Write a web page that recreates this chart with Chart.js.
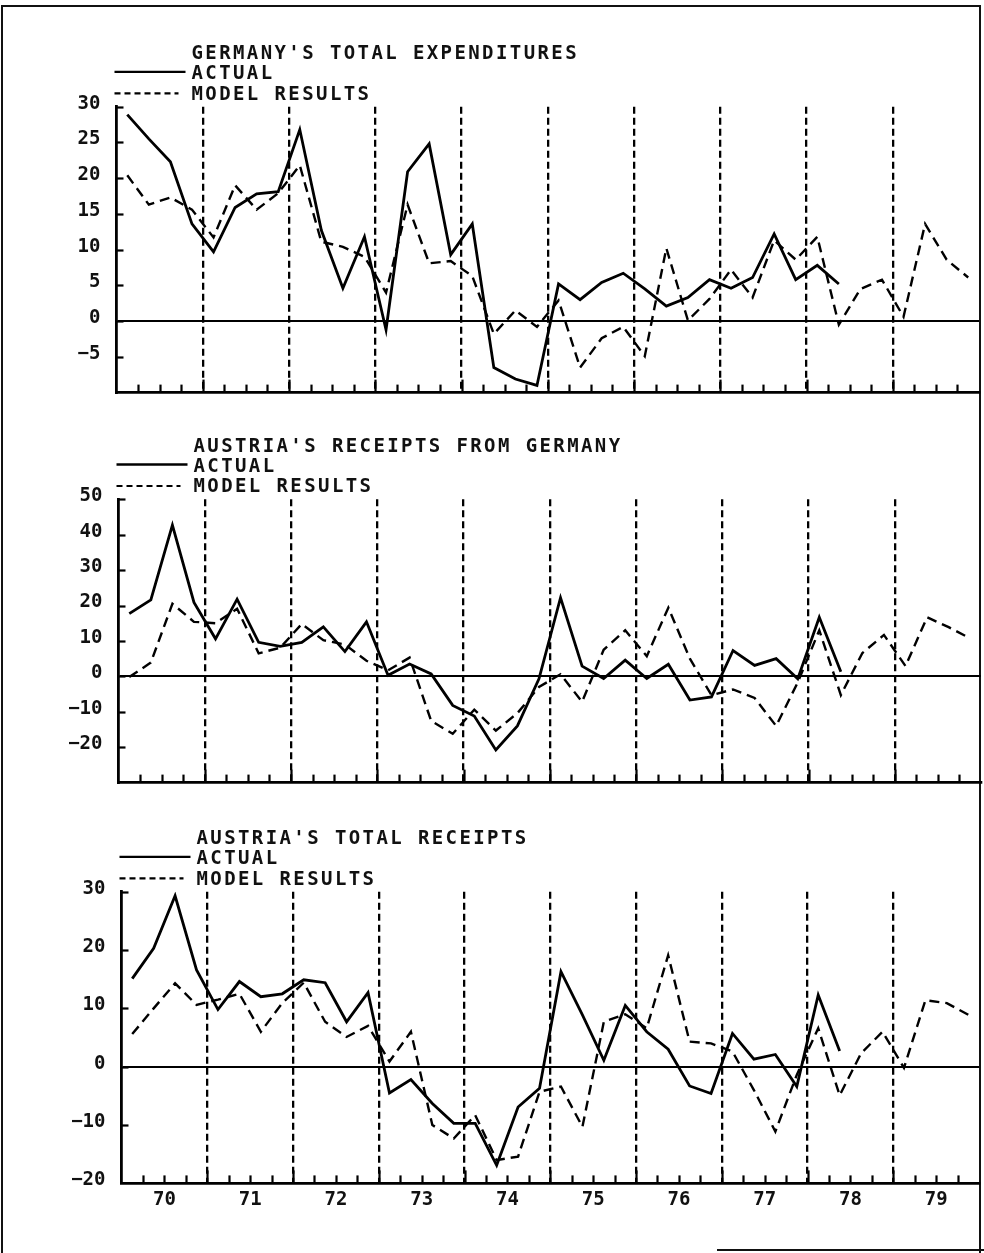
<!DOCTYPE html>
<html>
<head>
<meta charset="utf-8">
<title>Germany and Austria: actual vs model results, 1970-1979</title>
<script src="https://cdn.jsdelivr.net/npm/chart.js@4.4.1/dist/chart.umd.min.js"></script>
<style>
  html, body { margin: 0; padding: 0; background: #fff; }
  body { width: 984px; height: 1253px; position: relative; overflow: hidden;
         font-family: "DejaVu Sans Mono", "Liberation Mono", monospace; }
  canvas.panel { position: absolute; left: 0; }
  .head { position: absolute; font-size: 19px; line-height: 20.4px; letter-spacing: 2.4px;
          font-weight: bold; color: #111; white-space: pre; }
  svg.key { position: absolute; left: 0; top: 0; overflow: visible; }
  .frame { position: absolute; left: 1px; top: 5px; width: 976px; height: 1252px;
           border-left: 2px solid #111; border-top: 2px solid #111; border-right: 2px solid #111; }
  .base { position: absolute; left: 717px; top: 1249px; width: 267px; height: 2px; background: #111; }
</style>
</head>
<body>
<div class="frame"></div>
<div class="base"></div>

<script>
// Quarterly percentage changes, 1970 Q1 onward (one value per quarter).
const yearLabels = ['70', '71', '72', '73', '74', '75', '76', '77', '78', '79'];
const seriesNames = ['ACTUAL', 'MODEL RESULTS'];

// Germany's total expenditures
const germanyActual = [28.9, 25.5, 22.3, 13.6, 9.7, 15.9, 17.8, 18.1, 26.8, 12.7, 4.6, 11.8,
  -1.2, 20.9, 24.8, 9.3, 13.6, -6.5, -8.1, -9.0, 5.2, 3.0, 5.4, 6.7, 4.5, 2.1, 3.3, 5.8,
  4.6, 6.1, 12.2, 5.8, 7.8, 5.2];
const germanyModel = [20.4, 16.3, 17.3, 15.6, 11.7, 19.0, 15.6, 17.9, 21.8, 11.1, 10.4, 9.0,
  4.0, 16.3, 8.1, 8.4, 6.3, -1.8, 1.5, -0.8, 2.9, -6.5, -2.4, -0.8, -4.9, 10.2, 0.1, 3.1,
  7.2, 3.3, 11.3, 8.6, 11.8, -0.5, 4.5, 5.8, 0.6, 13.6, 8.6, 6.1];

// Austria's receipts from Germany
const fromGermanyActual = [17.7, 21.6, 42.7, 20.9, 10.6, 21.8, 9.6, 8.5, 9.6, 14.0, 7.0, 15.4,
  0.3, 3.5, 0.7, -8.2, -11.2, -20.8, -14.0, -0.7, 22.2, 2.9, -0.6, 4.6, -0.6, 3.4, -6.7, -5.8,
  7.3, 3.1, 5.0, -0.7, 16.7, 1.3];
const fromGermanyModel = [-0.2, 3.9, 20.5, 15.4, 15.0, 19.1, 6.5, 8.1, 14.8, 10.2, 9.0, 4.4,
  1.7, 5.3, -12.6, -16.2, -9.4, -15.3, -10.4, -3.0, 0.6, -7.2, 7.5, 13.0, 5.7, 19.4, 5.0, -5.3,
  -3.7, -6.1, -14.0, -1.7, 13.0, -5.3, 6.6, 11.7, 2.9, 16.7, 13.9, 10.7];

// Austria's total receipts
const totalReceiptsActual = [15.1, 20.3, 29.3, 16.6, 9.8, 14.6, 12.0, 12.5, 14.9, 14.4, 7.7, 12.7,
  -4.5, -2.2, -6.3, -9.7, -9.7, -16.9, -6.9, -3.7, 16.3, 8.9, 1.1, 10.5, 6.0, 3.0, -3.3, -4.6,
  5.7, 1.3, 2.1, -3.4, 12.3, 2.7];
const totalReceiptsModel = [5.6, 10.0, 14.3, 10.6, 11.5, 12.5, 6.0, 10.9, 14.4, 7.7, 5.1, 7.0,
  0.9, 6.0, -10.0, -12.3, -8.3, -16.0, -15.4, -4.3, -3.4, -10.3, 7.7, 9.0, 6.6, 19.1, 4.3, 4.0,
  2.6, -4.0, -11.1, -1.4, 6.6, -4.9, 2.3, 6.0, -0.2, 11.4, 10.9, 8.9];

const titles = ["GERMANY'S TOTAL EXPENDITURES", "AUSTRIA'S RECEIPTS FROM GERMANY", "AUSTRIA'S TOTAL RECEIPTS"];
const yRanges = [[-10, 30, 5], [-30, 50, 10], [-20, 30, 10]];

const QUARTERS = 40;
const PAGE_W = 984;
const FONT = "'DejaVu Sans Mono', 'Liberation Mono', monospace";
Chart.defaults.font.family = FONT;
Chart.defaults.font.size = 19;
Chart.defaults.color = '#111';

// Layout of each panel on the page (canvas band and plot rectangle).
const layout = [
  { top: 0,   height: 420, plotTop: 106.7, plotBottom: 398.3,  plotLeft: 116.5, hideLowest: true,  years: false },
  { top: 420, height: 390, plotTop: 499.3, plotBottom: 791.5,  plotLeft: 118.5, hideLowest: true,  years: false },
  { top: 810, height: 443, plotTop: 891.7, plotBottom: 1183.4, plotLeft: 121.5, hideLowest: false, years: true }
];
const series = [
  [germanyActual, germanyModel],
  [fromGermanyActual, fromGermanyModel],
  [totalReceiptsActual, totalReceiptsModel]
];
const PLOT_W = 862.5;

const toPoints = arr => arr.map((v, i) => ({ x: i + 0.5, y: v }));

// Short inward tick marks on both axes, as on a pen-plotter chart.
const innerTicks = {
  id: 'innerTicks',
  afterDatasetsDraw(chart) {
    const { ctx, chartArea, scales: { x, y } } = chart;
    ctx.save();
    ctx.strokeStyle = '#000';
    ctx.lineWidth = 2.2;
    ctx.setLineDash([]);
    x.ticks.forEach(t => {
      const v = t.value;
      if (v <= 0 || v >= QUARTERS) return;
      const px = Math.round(x.getPixelForValue(v)) + 0.5;
      const len = v % 4 === 0 ? 13 : 8;
      ctx.beginPath();
      ctx.moveTo(px, chartArea.bottom);
      ctx.lineTo(px, chartArea.bottom - len);
      ctx.stroke();
    });
    y.ticks.forEach(t => {
      if (t.value === y.min) return;
      const py = Math.round(y.getPixelForValue(t.value)) + 0.5;
      ctx.beginPath();
      ctx.moveTo(chartArea.left, py);
      ctx.lineTo(chartArea.left + 7, py);
      ctx.stroke();
    });
    ctx.restore();
  }
};

layout.forEach((L, k) => {
  const [yMin, yMax, yStep] = yRanges[k];
  const [actual, model] = series[k];

  const canvas = document.createElement('canvas');
  canvas.className = 'panel';
  canvas.width = PAGE_W;
  canvas.height = L.height;
  canvas.style.top = L.top + 'px';
  canvas.style.width = PAGE_W + 'px';
  canvas.style.height = L.height + 'px';
  document.body.appendChild(canvas);

  new Chart(canvas, {
    type: 'line',
    data: {
      datasets: [
        { label: seriesNames[0], data: toPoints(actual), borderColor: '#000', borderWidth: 2.8,
          pointRadius: 0, tension: 0, fill: false },
        { label: seriesNames[1], data: toPoints(model), borderColor: '#000', borderWidth: 2.4,
          borderDash: [10, 6], pointRadius: 0, tension: 0, fill: false }
      ]
    },
    options: {
      responsive: false,
      animation: false,
      events: [],
      layout: { padding: { top: L.plotTop - L.top, left: 0, right: PAGE_W - (L.plotLeft + PLOT_W), bottom: 0 } },
      plugins: { legend: { display: false }, tooltip: { enabled: false }, title: { display: false } },
      scales: {
        x: {
          type: 'linear', position: 'bottom', min: 0, max: QUARTERS,
          afterFit: s => { s.height = L.top + L.height - L.plotBottom; },
          ticks: {
            stepSize: 1, autoSkip: false, maxRotation: 0, display: L.years, padding: 5,
            font: { family: FONT, size: 19, weight: 'bold' }, color: '#111',
            callback: v => (v % 4 === 2 ? yearLabels[(v - 2) / 4] : '')
          },
          grid: {
            drawTicks: false, lineWidth: 2.3,
            color: c => {
              const v = c.tick ? c.tick.value : -1;
              return (v % 4 === 0 && v > 0 && v < QUARTERS) ? '#000' : 'rgba(0,0,0,0)';
            }
          },
          border: { display: true, color: '#000', width: 2.8, dash: [7, 4] }
        },
        y: {
          type: 'linear', min: yMin, max: yMax,
          afterFit: s => { s.width = L.plotLeft; },
          ticks: {
            stepSize: yStep, padding: 16, labelOffset: -3,
            font: { family: FONT, size: 19, weight: 'bold' }, color: '#111',
            callback: v => (L.hideLowest && v === yMin ? '' : String(v).replace('-', '\u2212'))
          },
          grid: {
            drawTicks: false, lineWidth: 2,
            color: c => (c.tick && c.tick.value === 0 ? '#000' : 'rgba(0,0,0,0)')
          },
          border: { display: true, color: '#000', width: 2.8 }
        }
      }
    },
    plugins: [innerTicks]
  });

  // Heading and key above the plot
  const capTop = L.plotTop - 61.8;
  const head = document.createElement('div');
  head.className = 'head';
  head.style.left = (L.plotLeft + 75) + 'px';
  head.style.top = (capTop - 2.9) + 'px';
  head.textContent = titles[k] + '\n' + seriesNames[0] + '\n' + seriesNames[1];
  document.body.appendChild(head);

  const ns = 'http://www.w3.org/2000/svg';
  const svg = document.createElementNS(ns, 'svg');
  svg.setAttribute('class', 'key');
  svg.setAttribute('width', PAGE_W);
  svg.setAttribute('height', 1253);
  const x0 = L.plotLeft - 2;
  const solid = document.createElementNS(ns, 'line');
  solid.setAttribute('x1', x0); solid.setAttribute('x2', x0 + 71);
  solid.setAttribute('y1', capTop + 27); solid.setAttribute('y2', capTop + 27);
  solid.setAttribute('stroke', '#000'); solid.setAttribute('stroke-width', 2.4);
  const dashed = document.createElementNS(ns, 'line');
  dashed.setAttribute('x1', x0); dashed.setAttribute('x2', x0 + 64);
  dashed.setAttribute('y1', capTop + 48.5); dashed.setAttribute('y2', capTop + 48.5);
  dashed.setAttribute('stroke', '#000'); dashed.setAttribute('stroke-width', 2.2);
  dashed.setAttribute('stroke-dasharray', '6 4');
  svg.appendChild(solid);
  svg.appendChild(dashed);
  document.body.appendChild(svg);
});
</script>
</body>
</html>
